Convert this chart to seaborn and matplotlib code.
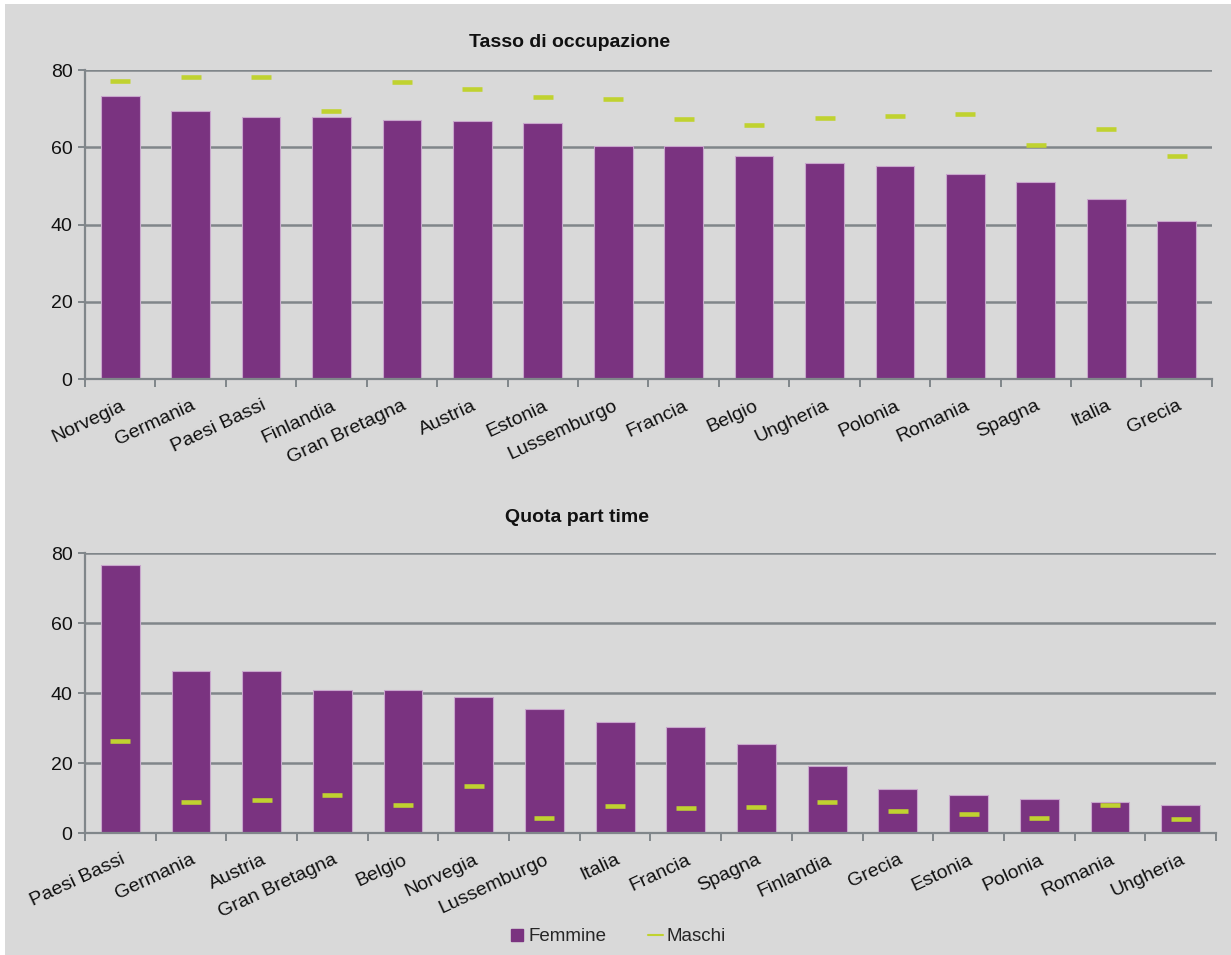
import matplotlib
matplotlib.use("Agg")
import matplotlib.pyplot as plt
from matplotlib.patches import Rectangle
from matplotlib.lines import Line2D
import seaborn as sns
import pandas as pd

# Employment rate (%), women vs men
paesi_occ = ["Norvegia", "Germania", "Paesi Bassi", "Finlandia", "Gran Bretagna",
             "Austria", "Estonia", "Lussemburgo", "Francia", "Belgio", "Ungheria",
             "Polonia", "Romania", "Spagna", "Italia", "Grecia"]
femmine_occ = [73.3, 69.4, 67.9, 67.9, 67.0, 66.8, 66.2, 60.3, 60.3, 57.7, 55.8,
               55.1, 53.1, 50.9, 46.6, 40.8]
maschi_occ = [77.1, 78.2, 78.2, 69.4, 77.0, 75.2, 73.0, 72.6, 67.2, 65.7, 67.7,
              68.1, 68.6, 60.6, 64.6, 57.8]

# Part-time share (%), women vs men
paesi_pt = ["Paesi Bassi", "Germania", "Austria", "Gran Bretagna", "Belgio",
            "Norvegia", "Lussemburgo", "Italia", "Francia", "Spagna", "Finlandia",
            "Grecia", "Estonia", "Polonia", "Romania", "Ungheria"]
femmine_pt = [76.5, 46.2, 46.2, 41.0, 41.0, 38.8, 35.3, 31.8, 30.4, 25.3, 19.1,
              12.5, 10.9, 9.8, 9.0, 7.9]
maschi_pt = [26.2, 8.9, 9.3, 10.9, 8.0, 13.4, 4.3, 7.7, 7.1, 7.4, 8.9, 6.3, 5.4,
             4.2, 8.1, 4.0]

titoli = ["Tasso di occupazione", "Quota part time"]
yticks = [0, 20, 40, 60, 80]

VIOLA = "#7a3380"
VERDE = "#c0d230"
GRIGIO = "#80868a"
SFONDO = "#d9d9d9"

sns.set_theme(style="white")
plt.rcParams["font.family"] = ["Liberation Sans", "DejaVu Sans"]

fig = plt.figure(figsize=(12.31, 9.55), dpi=100, facecolor="white")
fig.patches.append(Rectangle((5 / 1231, 0), 1 - 5 / 1231, 1 - 4 / 955,
                             transform=fig.transFigure, facecolor=SFONDO,
                             edgecolor="none", zorder=-10))

ax_top = fig.add_axes([0.069, 0.6031, 0.9155, 0.3236])
ax_bot = fig.add_axes([0.069, 0.1277, 0.9188, 0.2932])


def pannello(ax, paesi, femmine, maschi):
    df = pd.DataFrame({"paese": paesi, "femmine": femmine, "maschi": maschi})
    ax.set_facecolor("none")
    sns.barplot(data=df, x="paese", y="femmine", order=paesi, color=VIOLA,
                saturation=1, width=0.55, edgecolor="#c8a6cc", linewidth=0.8,
                ax=ax, zorder=2)
    sns.pointplot(data=df, x="paese", y="maschi", order=paesi, color=VERDE,
                  markers="_", linestyle="none", errorbar=None,
                  markersize=15, markeredgewidth=3.3, ax=ax, zorder=4)
    ax.set_xlim(-0.5, len(paesi) - 0.5)
    ax.set_ylim(0, 80)
    ax.set_yticks(yticks)
    ax.set_xlabel("")
    ax.set_ylabel("")
    ax.grid(False)
    for v in yticks[1:]:
        ax.axhline(v, color=GRIGIO, lw=1.8, zorder=1)
    for side in ["top", "right"]:
        ax.spines[side].set_visible(False)
    for side in ["left", "bottom"]:
        ax.spines[side].set_color(GRIGIO)
        ax.spines[side].set_linewidth(1.6)
    ax.set_xticks(range(len(paesi)))
    ax.set_xticklabels(paesi, rotation=25, ha="right", va="top",
                       rotation_mode="anchor", fontsize=14, color="#111111")
    ax.set_xticks([i - 0.5 for i in range(len(paesi) + 1)], minor=True)
    ax.tick_params(axis="x", which="major", length=0, pad=13)
    ax.tick_params(axis="x", which="minor", length=6, width=1.4,
                   color=GRIGIO, direction="out", bottom=True)
    ax.tick_params(axis="y", which="major", length=5, width=1.4, color=GRIGIO,
                   direction="out", left=True, labelsize=14, pad=4,
                   labelcolor="#111111")


pannello(ax_top, paesi_occ, femmine_occ, maschi_occ)
pannello(ax_bot, paesi_pt, femmine_pt, maschi_pt)

fig.text(0.463, 0.955, titoli[0], ha="center", va="center", fontsize=14,
         fontweight="bold", color="#111111")
fig.text(0.469, 0.4586, titoli[1], ha="center", va="center", fontsize=14,
         fontweight="bold", color="#111111")

handles = [Line2D([], [], marker="s", linestyle="none", color=VIOLA,
                  markersize=8),
           Line2D([], [], color=VERDE, lw=1.5)]
fig.legend(handles, ["Femmine", "Maschi"], loc="center",
           bbox_to_anchor=(0.502, 0.019), ncol=2, frameon=False, fontsize=13.5,
           handlelength=0.8, handletextpad=0.2, columnspacing=2.2)

fig.savefig("out.png", dpi=100, facecolor="white")
